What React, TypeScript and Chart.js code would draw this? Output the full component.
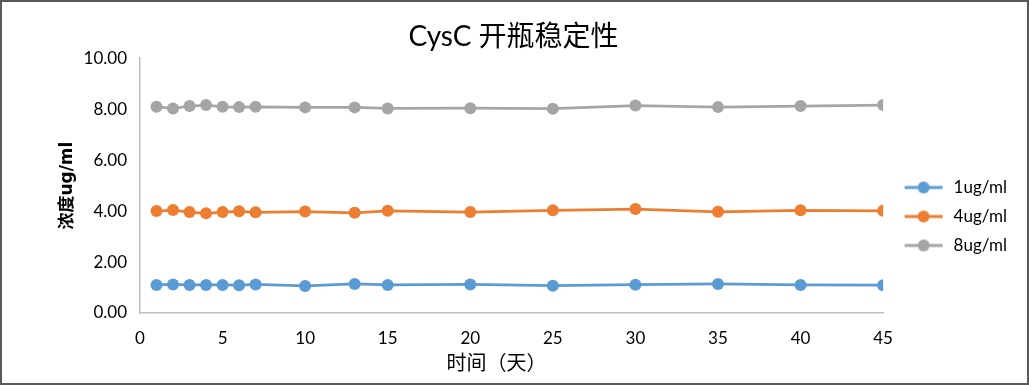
import React, { useEffect, useRef } from "react";
import { Chart, registerables } from "chart.js";

Chart.register(...registerables);

const chartTitle = "CysC 开瓶稳定性";
const xAxisTitle = "时间（天）";
const yAxisTitle = "浓度ug/ml";
const days = [1, 2, 3, 4, 5, 6, 7, 10, 13, 15, 20, 25, 30, 35, 40, 45];
const seriesNames = ["1ug/ml", "4ug/ml", "8ug/ml"];
const s1 = [1.10, 1.12, 1.10, 1.10, 1.10, 1.09, 1.12, 1.06, 1.14, 1.10, 1.12, 1.07, 1.11, 1.14, 1.10, 1.09];
const s4 = [4.00, 4.04, 3.96, 3.91, 3.96, 3.99, 3.95, 3.98, 3.93, 4.01, 3.96, 4.03, 4.08, 3.97, 4.03, 4.01];
const s8 = [8.09, 8.03, 8.12, 8.16, 8.09, 8.08, 8.09, 8.07, 8.07, 8.03, 8.04, 8.02, 8.14, 8.08, 8.12, 8.16];
const colors = ["#5b9bd5", "#ed7d31", "#a5a5a5"];

const FONT = "Lato, 'Noto Sans CJK SC', sans-serif";

function legendIcon(color: string): HTMLCanvasElement {
  const c = document.createElement("canvas");
  c.width = 51;
  c.height = 14;
  const ctx = c.getContext("2d")!;
  ctx.strokeStyle = color;
  ctx.lineWidth = 3;
  ctx.beginPath();
  ctx.moveTo(10, 7);
  ctx.lineTo(48, 7);
  ctx.stroke();
  ctx.fillStyle = color;
  ctx.beginPath();
  ctx.arc(29, 7, 6, 0, Math.PI * 2);
  ctx.fill();
  return c;
}

export default function App() {
  const ref = useRef<HTMLCanvasElement>(null);
  useEffect(() => {
    document.body.style.margin = "0";
    const seriesValues = [s1, s4, s8];
    const icons = colors.map(legendIcon);
    const chart = new Chart(ref.current!, {
      type: "line",
      data: {
        datasets: seriesNames.map((name, i) => ({
          label: name,
          data: days.map((d, j) => ({ x: d, y: seriesValues[i][j] })),
          borderColor: colors[i],
          backgroundColor: colors[i],
          borderWidth: 2.75,
          pointRadius: 6,
          pointHoverRadius: 6,
          pointBorderWidth: 0,
          tension: 0,
        })),
      },
      options: {
        animation: false,
        responsive: false,
        layout: { padding: { top: 10, bottom: 9, left: 10, right: 12 } },
        plugins: {
          tooltip: { enabled: false },
          title: {
            display: true,
            text: chartTitle,
            color: "#000",
            font: { family: FONT, size: 28, weight: "normal" },
            padding: { top: 10, bottom: 4.6 },
          },
          legend: {
            position: "right",
            title: { display: true, text: " ", font: { size: 10 }, padding: { top: 35, bottom: 0 } },
            labels: {
              usePointStyle: true,
              pointStyleWidth: 50,
              padding: 12,
              color: "#000",
              font: { family: FONT, size: 17 },
              generateLabels: (ch: any) => {
                const items = Chart.defaults.plugins.legend.labels.generateLabels(ch);
                return items.map((it: any, i: number) => ({ ...it, pointStyle: icons[i] }));
              },
            },
          },
        },
        scales: {
          x: {
            type: "linear",
            min: 0,
            max: 45,
            afterFit: (s: any) => {
              s.height = 63;
            },
            ticks: {
              stepSize: 5,
              color: "#000",
              padding: 15,
              font: { family: FONT, size: 17 },
              callback: (v: any) => String(v),
            },
            grid: { display: false, drawTicks: false },
            border: { color: "#bfbfbf", width: 1.5 },
            title: {
              display: true,
              text: xAxisTitle + "　　",
              color: "#000",
              font: { family: FONT, size: 20 },
              padding: { top: 2, bottom: 0 },
            },
          },
          y: {
            min: 0,
            max: 10,
            afterFit: (s: any) => {
              s.width = 130;
            },
            ticks: {
              stepSize: 2,
              color: "#000",
              padding: 13,
              font: { family: FONT, size: 17 },
              callback: (v: any) => Number(v).toFixed(2),
            },
            grid: { display: false, drawTicks: false },
            border: { color: "#bfbfbf", width: 1.5 },
            title: {
              display: true,
              text: yAxisTitle,
              color: "#000",
              font: { family: "'DejaVu Sans', 'Noto Sans CJK SC', sans-serif", size: 17, weight: "bold" },
              padding: { top: 47, bottom: 4 },
            },
          },
        },
      },
    } as any);
    return () => chart.destroy();
  }, []);
  return (
    <div style={{ position: "relative", width: 1029, height: 385, background: "#fff" }}>
      <canvas ref={ref} width={1029} height={385} style={{ position: "absolute", left: 0, top: 0 }} />
      <div
        style={{
          position: "absolute",
          inset: 0,
          border: "2px solid #595959",
          boxSizing: "border-box",
          pointerEvents: "none",
        }}
      />
    </div>
  );
}
